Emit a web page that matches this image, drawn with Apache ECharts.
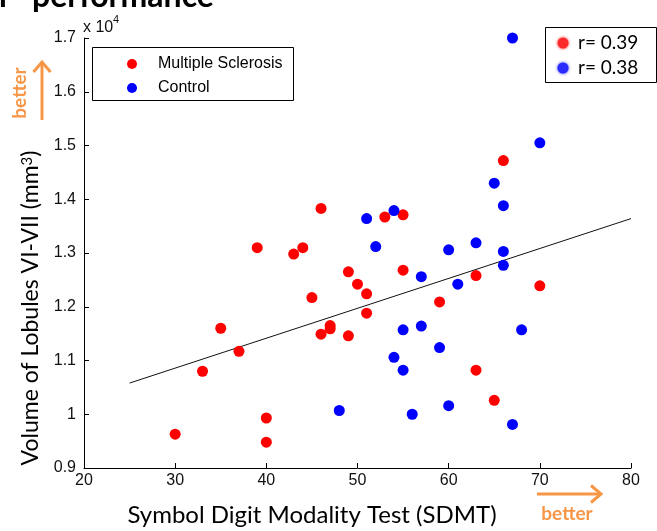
<!DOCTYPE html>
<html>
<head>
<meta charset="utf-8">
<style>
  html, body { margin: 0; padding: 0; background: #fff; }
  #chart { width: 657px; height: 531px; }
</style>
<script src="https://cdn.jsdelivr.net/npm/echarts@6/dist/echarts.min.js"></script>
</head>
<body>
<div id="chart"></div>
<script>
// SDMT score vs. volume of cerebellar lobules VI-VII (mm^3)
const msSdmt = [30, 33, 35, 37, 39, 40, 40, 43, 44, 45, 46, 46, 47, 47, 49, 49, 50, 51, 51, 53, 55, 55, 59, 63, 63, 65, 66, 70];
const msVolume = [9630, 10800, 11600, 11170, 13100, 9930, 9480, 12980, 13100, 12170, 13830, 11490, 11650, 11590, 12650, 11460, 12420, 12240, 11880, 13670, 13710, 12680, 12090, 12580, 10820, 10260, 14720, 12390];

const ctrlSdmt = [48, 51, 52, 54, 54, 55, 55, 56, 57, 57, 59, 60, 60, 61, 63, 65, 66, 66, 66, 67, 67, 68, 70];
const ctrlVolume = [10070, 13640, 13120, 13790, 11060, 11570, 10820, 10000, 12560, 11640, 11240, 13060, 10160, 12420, 13190, 14300, 13880, 13030, 12770, 17000, 9810, 11570, 15050];

// Least-squares fit endpoints
const fitSdmt = [25, 80];
const fitVolume = [10580, 13640];

const groupNames = ['Multiple Sclerosis', 'Control'];
const correlations = ['r= 0.39', 'r= 0.38'];

const xAxisTitle = 'Symbol Digit Modality Test (SDMT)';
const yAxisTitle = 'Volume of Lobules VI-VII (mm';
const headingTail = ['r', 'performance'];

const RED = '#ff0000';
const BLUE = '#0000ff';
const ORANGE = '#f79646';
const TICK_FONT = 'Liberation Sans';
const TEXT_FONT = 'Lato';

const zip = (xs, ys) => xs.map((x, i) => [x, ys[i]]);

const chart = echarts.init(document.getElementById('chart'), null, { renderer: 'canvas' });

chart.setOption({
  animation: false,
  backgroundColor: '#fff',
  grid: { left: 84, right: 26, top: 38, bottom: 63, containLabel: false },
  xAxis: {
    type: 'value', min: 20, max: 80, interval: 10,
    axisLine: { show: true, onZero: false, lineStyle: { color: '#000', width: 1 } },
    axisTick: { show: true, inside: true, length: 5, lineStyle: { color: '#000' } },
    axisLabel: { color: '#111', fontFamily: TICK_FONT, fontSize: 16, margin: 5 },
    splitLine: { show: false }
  },
  yAxis: {
    type: 'value', min: 9000, max: 17000, interval: 1000,
    axisLine: { show: true, onZero: false, lineStyle: { color: '#000', width: 1 } },
    axisTick: { show: true, inside: true, length: 5, lineStyle: { color: '#000' } },
    axisLabel: {
      color: '#111', fontFamily: TICK_FONT, fontSize: 16, margin: 8,
      formatter: v => String(Math.round(v / 1000) / 10)
    },
    splitLine: { show: false }
  },
  legend: {
    orient: 'vertical', left: 122, top: 51,
    itemWidth: 10, itemHeight: 10, itemGap: 8, icon: 'circle',
    selectedMode: false,
    textStyle: { color: '#000', fontFamily: TICK_FONT, fontSize: 16, padding: [0, 0, 0, 16] },
    data: groupNames
  },
  series: [
    {
      name: 'fit', type: 'line', data: zip(fitSdmt, fitVolume),
      symbol: 'none', silent: true, z: 1,
      lineStyle: { color: '#111', width: 1 }
    },
    {
      name: groupNames[0], type: 'scatter', data: zip(msSdmt, msVolume),
      symbol: 'circle', symbolSize: 11, z: 2,
      itemStyle: { color: RED, opacity: 1 }
    },
    {
      name: groupNames[1], type: 'scatter', data: zip(ctrlSdmt, ctrlVolume),
      symbol: 'circle', symbolSize: 11, z: 3,
      itemStyle: { color: BLUE, opacity: 1 }
    }
  ],
  graphic: [
    // Heading (cut at the top of the canvas)
    { type: 'text', left: -1, top: -19, z: 10,
      style: { text: headingTail[0], font: 'bold 32px ' + TEXT_FONT, fill: '#000' } },
    { type: 'text', left: 32, top: -19, z: 10,
      style: { text: headingTail[1], font: 'bold 32px ' + TEXT_FONT, fill: '#000' } },

    // Exponent marker of the y axis
    { type: 'text', left: 83, top: 20, z: 10,
      style: { text: 'x 10', font: '16px ' + TICK_FONT, fill: '#111' } },
    { type: 'text', left: 113, top: 14, z: 10,
      style: { text: '4', font: '11px ' + TICK_FONT, fill: '#111' } },

    // Group legend frame
    { type: 'rect', z: 1, shape: { x: 92.5, y: 47.5, width: 201, height: 53 },
      style: { fill: '#fff', stroke: '#000', lineWidth: 1 } },

    // Correlation box
    { type: 'rect', z: 1, shape: { x: 545.5, y: 27.5, width: 111, height: 55 },
      style: { fill: '#fff', stroke: '#000', lineWidth: 1 } },
    { type: 'circle', z: 5, shape: { cx: 563, cy: 43, r: 5.5 },
      style: { fill: '#ff2a2a', shadowBlur: 3, shadowColor: '#ff2a2a' } },
    { type: 'circle', z: 5, shape: { cx: 563, cy: 68, r: 5.5 },
      style: { fill: '#2a2aff', shadowBlur: 3, shadowColor: '#2a2aff' } },
    { type: 'text', z: 5, x: 578, y: 43,
      style: { text: correlations[0], font: '19px ' + TEXT_FONT, fill: '#000', verticalAlign: 'middle' } },
    { type: 'text', z: 5, x: 578, y: 68,
      style: { text: correlations[1], font: '19px ' + TEXT_FONT, fill: '#000', verticalAlign: 'middle' } },

    // Axis titles
    { type: 'text', z: 10, x: 312, y: 515,
      style: { text: xAxisTitle, font: '24px ' + TEXT_FONT, fill: '#000', align: 'center', verticalAlign: 'middle' } },
    { type: 'text', z: 10, x: 31, y: 308, rotation: Math.PI / 2,
      style: {
        text: '{a|' + yAxisTitle + '}{s|3}{a|)}',
        align: 'center', verticalAlign: 'middle',
        rich: {
          a: { font: '23px ' + TEXT_FONT, fill: '#000', verticalAlign: 'bottom' },
          s: { font: '15px ' + TEXT_FONT, fill: '#000', verticalAlign: 'top', padding: [0, 0, 8, 0] }
        }
      } },

    // "better" arrow along the x axis
    { type: 'line', z: 10, shape: { x1: 537, y1: 494, x2: 600, y2: 494 },
      style: { stroke: ORANGE, lineWidth: 3 } },
    { type: 'polyline', z: 10, shape: { points: [[591, 485.5], [601, 494], [591, 502.5]] },
      style: { stroke: ORANGE, lineWidth: 3, fill: null } },
    { type: 'text', z: 10, x: 567, y: 514,
      style: { text: 'better', font: 'bold 19px ' + TEXT_FONT, fill: ORANGE, align: 'center', verticalAlign: 'middle' } },

    // "better" arrow along the y axis
    { type: 'line', z: 10, shape: { x1: 42, y1: 120, x2: 42, y2: 63 },
      style: { stroke: ORANGE, lineWidth: 3 } },
    { type: 'polyline', z: 10, shape: { points: [[33.5, 72], [42, 62], [50.5, 72]] },
      style: { stroke: ORANGE, lineWidth: 3, fill: null } },
    { type: 'text', z: 10, x: 20, y: 93, rotation: Math.PI / 2,
      style: { text: 'better', font: 'bold 19px ' + TEXT_FONT, fill: ORANGE, align: 'center', verticalAlign: 'middle' } }
  ]
});
</script>
</body>
</html>
